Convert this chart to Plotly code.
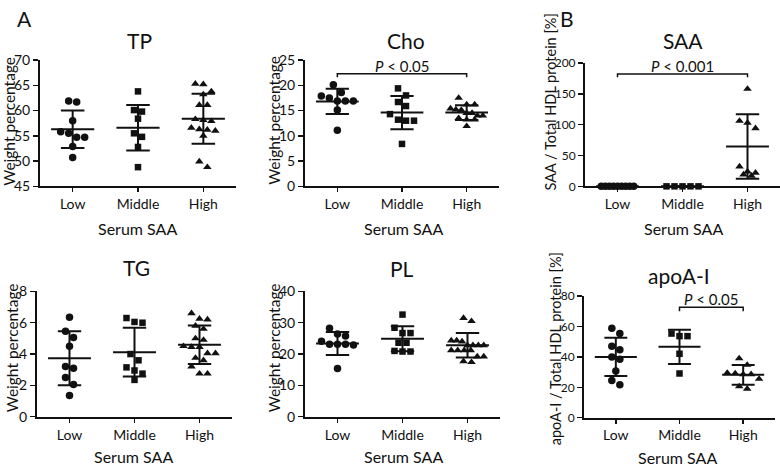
import plotly.graph_objects as go

FONT = "Lato"
INK = "#111111"

groups = ["Low", "Middle", "High"]

# ---- Panel A: weight percentages ----
tp_low = [61.7, 61.9, 58.0, 55.5, 55.8, 54.7, 54.7, 52.9, 50.7]
tp_mid = [63.8, 59.8, 60.1, 58.4, 55.5, 54.8, 52.8, 48.8]
tp_high = [65.3, 65.2, 63.2, 63.8, 61.1, 61.1, 58.3, 58.1, 57.9, 56.3, 56.0, 56.2, 56.6, 55.0, 48.8, 49.9]
tp_mean = [56.3, 56.6, 58.4]
tp_sd = [3.7, 4.5, 4.95]

cho_low = [20.1, 18.6, 17.9, 17.5, 16.9, 16.9, 16.9, 15.1, 11.1]
cho_mid = [19.4, 18.0, 16.7, 15.9, 14.3, 13.0, 13.0, 13.2, 8.4]
cho_high = [17.5, 16.2, 16.2, 15.1, 15.4, 15.2, 14.5, 14.5, 14.0, 14.0, 13.5, 13.2, 13.2, 11.9]
cho_mean = [16.8, 14.6, 14.6]
cho_sd = [2.5, 3.3, 1.45]

tg_low = [6.35, 5.45, 5.05, 4.5, 3.2, 3.1, 2.5, 2.05, 1.35]
tg_mid = [6.3, 6.05, 6.0, 4.0, 3.6, 3.15, 2.95, 2.75, 2.35]
tg_high = [6.6, 6.25, 6.2, 5.8, 5.6, 4.9, 5.0, 4.5, 4.45, 4.45, 4.05, 4.05, 3.75, 3.6, 3.2, 2.75, 2.75]
tg_mean = [3.73, 4.12, 4.6]
tg_sd = [1.72, 1.56, 1.23]

pl_low = [28.2, 26.4, 25.8, 24.1, 23.1, 23.1, 23.1, 22.9, 15.4]
pl_mid = [32.6, 28.4, 26.7, 26.7, 23.6, 23.6, 21.0, 20.8, 20.8]
pl_high = [31.5, 30.5, 24.3, 24.3, 24.0, 22.8, 22.8, 22.8, 22.8, 21.2, 21.2, 21.2, 21.2, 19.2, 19.2, 17.4, 17.7]
pl_mean = [23.35, 24.9, 22.8]
pl_sd = [3.65, 4.0, 3.9]

# ---- Panel B: protein fractions ----
saa_low = [0, 0, 0, 0, 0, 0, 0, 0, 0]
saa_mid = [0, 0, 0, 0, 0]
saa_high = [158, 106, 103, 94, 32, 24, 22, 19, 17]
saa_mean = [0, 0, 64.6]
saa_sd = [0, 0, 52.1]

apo_low = [58.9, 55.4, 47.0, 44.8, 40.0, 38.5, 30.7, 24.4, 21.7]
apo_mid = [55.4, 53.7, 53.7, 42.1, 29.1]
apo_high = [39.0, 34.7, 29.5, 29.1, 28.6, 28.6, 25.5, 20.6, 19.0]
apo_mean = [40.0, 46.65, 28.2]
apo_sd = [12.6, 11.25, 6.5]

W, H = 780, 470

panels = [
    dict(title="TP", data=[tp_low, tp_mid, tp_high], mean=tp_mean, sd=tp_sd,
         yr=[45, 70], dt=5, box=(40, 236, 53, 184), ytitle="Weight percentage",
         yt=(9, 117), tt=(139, 33), xt=(137, 228), tfs=14, ytfs=15.5, bracket=None),
    dict(title="Cho", data=[cho_low, cho_mid, cho_high], mean=cho_mean, sd=cho_sd,
         yr=[0, 25], dt=5, box=(305, 499, 53, 184), ytitle="Weight percentage",
         yt=(274, 116), tt=(406, 33), xt=(403, 228), tfs=14, ytfs=15.5,
         bracket=(0, 2, 22.3, 21.6, 23.9, "<i>P</i> < 0.05")),
    dict(title="SAA", data=[saa_low, saa_mid, saa_high], mean=saa_mean, sd=saa_sd,
         yr=[0, 200], dt=50, box=(585, 780, 56, 184), ytitle="SAA / Total HDL protein [%]",
         yt=(550, 97), tt=(683, 33), xt=(683, 228), tfs=12, ytfs=14.5,
         bracket=(0, 2, 182, 177, 195, "<i>P</i> < 0.001")),
    dict(title="TG", data=[tg_low, tg_mid, tg_high], mean=tg_mean, sd=tg_sd,
         yr=[0, 8], dt=2, box=(37, 232, 293, 423), ytitle="Weight percentage",
         yt=(12, 352), tt=(136, 268), xt=(133, 464), tfs=14, ytfs=15.5, bracket=None),
    dict(title="PL", data=[pl_low, pl_mid, pl_high], mean=pl_mean, sd=pl_sd,
         yr=[0, 40], dt=10, box=(305, 500, 293, 423), ytitle="Weight percentage",
         yt=(274, 352), tt=(402, 269), xt=(403, 464), tfs=14, ytfs=15.5, bracket=None),
    dict(title="apoA-I", data=[apo_low, apo_mid, apo_high], mean=apo_mean, sd=apo_sd,
         yr=[0, 80], dt=20, box=(584, 775, 298, 424), ytitle="apoA-I / Total HDL protein [%]",
         yt=(555, 353), tt=(679, 277), xt=(677, 465), tfs=12, ytfs=14.5,
         bracket=(1, 2, 72.8, 70.1, 77.9, "<i>P</i> < 0.05")),
]

symbols = ["circle", "square", "triangle-up"]
msizes = [7.5, 6.5, 7.5]


def spread(values, px_per_unit, px_per_cat, diam=8.0, max_width=0.5):
    """Prism-like horizontal spread of points that share a row."""
    step = diam / px_per_cat
    order = sorted(range(len(values)), key=lambda i: -values[i])
    rows = []
    for i in order:
        if rows and (values[rows[-1][0]] - values[i]) * px_per_unit < diam:
            rows[-1].append(i)
        else:
            rows.append([i])
    offs = [0.0] * len(values)
    for row in rows:
        n = len(row)
        s = step if n < 2 or (n - 1) * step <= max_width else max_width / (n - 1)
        for k, i in enumerate(row):
            offs[i] = (k - (n - 1) / 2) * s
    return offs


def px(x):
    return x / W


def py(y):
    return 1 - y / H


fig = go.Figure()
annotations = []
layout = dict(width=W, height=H, margin=dict(l=0, r=0, t=0, b=0),
              paper_bgcolor="white", plot_bgcolor="white", showlegend=False,
              font=dict(family=FONT, color=INK))

for k, p in enumerate(panels, start=1):
    xa = "x" if k == 1 else f"x{k}"
    ya = "y" if k == 1 else f"y{k}"
    x0, x1, t, b = p["box"]
    ppu = (b - t) / (p["yr"][1] - p["yr"][0])
    ppc = (x1 - x0) / 3.0
    for g, vals in enumerate(p["data"]):
        offs = spread(vals, ppu, ppc)
        fig.add_trace(go.Scatter(
            x=[g + o for o in offs], y=vals, xaxis=xa, yaxis=ya, mode="markers",
            marker=dict(symbol=symbols[g], size=msizes[g], color=INK, line=dict(width=0)),
            cliponaxis=False, hoverinfo="skip"))
    # mean and SD bars
    lx, ly = [], []
    for g in range(3):
        m, s = p["mean"][g], p["sd"][g]
        lx += [g - 0.33, g + 0.33, None, g, g, None,
               g - 0.18, g + 0.18, None, g - 0.18, g + 0.18, None]
        ly += [m, m, None, m - s, m + s, None,
               m + s, m + s, None, m - s, m - s, None]
    fig.add_trace(go.Scatter(x=lx, y=ly, xaxis=xa, yaxis=ya, mode="lines",
                             line=dict(color=INK, width=2), cliponaxis=False,
                             hoverinfo="skip"))
    if p["bracket"]:
        a, c, yb, yt_, ytext, label = p["bracket"]
        fig.add_trace(go.Scatter(x=[a, a, c, c], y=[yt_, yb, yb, yt_], xaxis=xa, yaxis=ya,
                                 mode="lines", line=dict(color=INK, width=1.5),
                                 cliponaxis=False, hoverinfo="skip"))
        annotations.append(dict(x=(a + c) / 2, y=ytext, xref=xa, yref=ya, text=label,
                                showarrow=False, font=dict(size=15, family=FONT, color=INK),
                                xanchor="center", yanchor="middle"))

    xkey = "xaxis" if k == 1 else f"xaxis{k}"
    ykey = "yaxis" if k == 1 else f"yaxis{k}"
    layout[xkey] = dict(domain=[px(x0), px(x1)], anchor=ya, range=[-0.5, 2.5],
                        tickvals=[0, 1, 2], ticktext=groups, ticks="outside", ticklen=4,
                        tickwidth=1.5, tickcolor=INK, showline=True, linewidth=2,
                        linecolor=INK, showgrid=False, zeroline=False, fixedrange=True,
                        tickfont=dict(size=14, family=FONT, color=INK))
    layout[ykey] = dict(domain=[py(b), py(t)], anchor=xa, range=p["yr"], dtick=p["dt"],
                        tick0=p["yr"][0], ticks="outside", ticklen=5, tickwidth=1.5,
                        tickcolor=INK, showline=True, linewidth=2, linecolor=INK,
                        showgrid=False, zeroline=False, fixedrange=True,
                        tickfont=dict(size=p["tfs"], family=FONT, color=INK))
    # titles
    annotations.append(dict(x=px(p["tt"][0]), y=py(p["tt"][1]), xref="paper", yref="paper",
                            text=p["title"], showarrow=False, xanchor="center", yanchor="middle",
                            font=dict(size=21, family=FONT, color=INK)))
    annotations.append(dict(x=px(p["xt"][0]), y=py(p["xt"][1]), xref="paper", yref="paper",
                            text="Serum SAA", showarrow=False, xanchor="center", yanchor="middle",
                            font=dict(size=16, family=FONT, color=INK)))
    annotations.append(dict(x=px(p["yt"][0]), y=py(p["yt"][1]), xref="paper", yref="paper",
                            text=p["ytitle"], showarrow=False, textangle=-90,
                            xanchor="center", yanchor="middle",
                            font=dict(size=p["ytfs"], family=FONT, color=INK)))

annotations.append(dict(x=px(24), y=py(10), xref="paper", yref="paper", text="A",
                        showarrow=False, xanchor="center", yanchor="middle",
                        font=dict(size=21, family=FONT, color=INK)))
annotations.append(dict(x=px(567), y=py(10), xref="paper", yref="paper", text="B",
                        showarrow=False, xanchor="center", yanchor="middle",
                        font=dict(size=21, family=FONT, color=INK)))

layout["annotations"] = annotations
fig.update_layout(**layout)
fig.write_html("out.html", config={"displayModeBar": False, "staticPlot": True},
               post_script="document.body.style.margin='0';document.body.style.overflow='hidden';")
